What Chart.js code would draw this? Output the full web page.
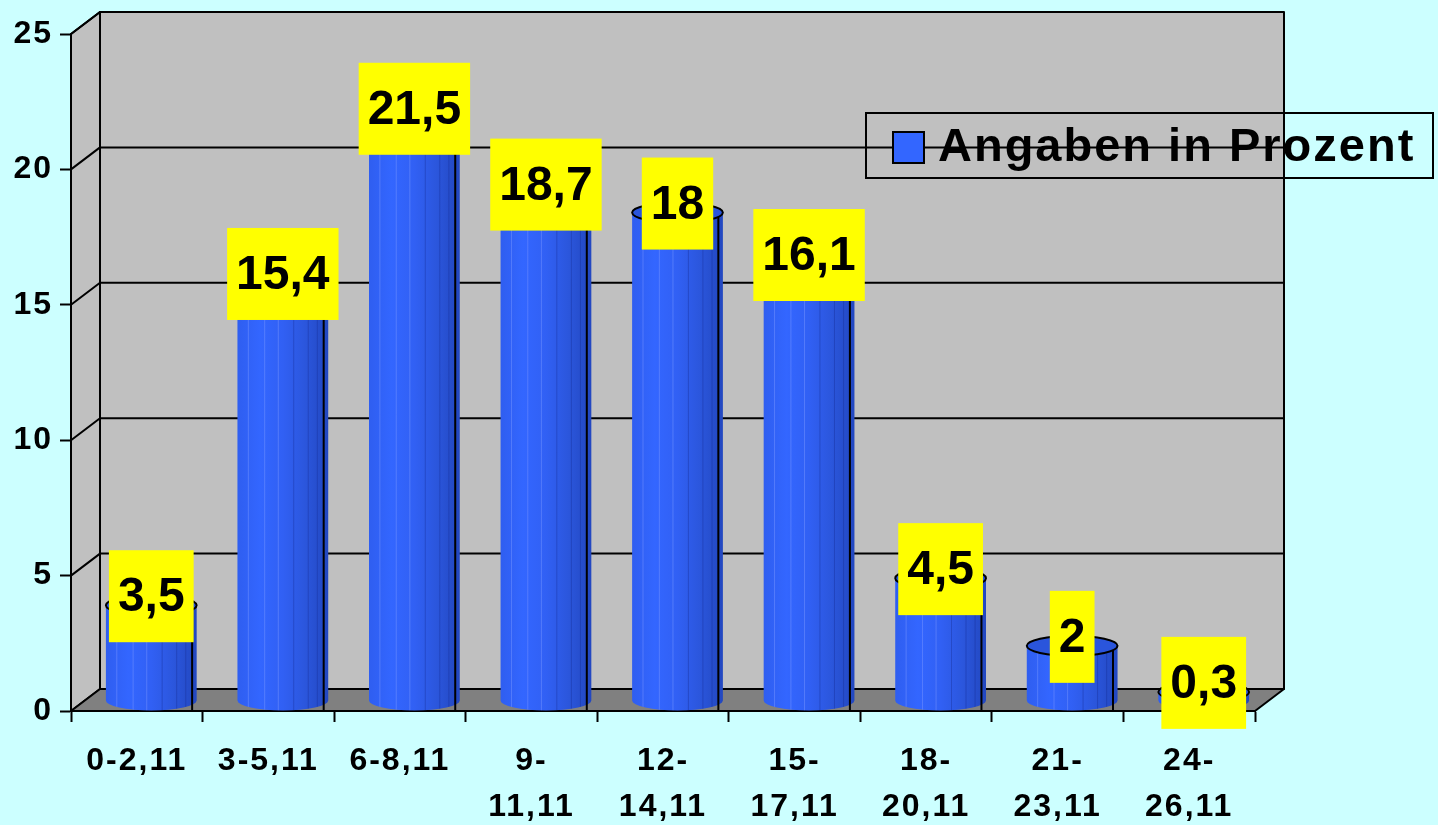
<!DOCTYPE html>
<html>
<head>
<meta charset="utf-8">
<script src="https://cdn.jsdelivr.net/npm/chart.js@4/dist/chart.umd.min.js"></script>
<style>
  html, body { margin: 0; padding: 0; background: #ccffff; }
  canvas { display: block; }
</style>
</head>
<body>
<canvas id="chart" width="1438" height="825"></canvas>
<script>
const categories = [
  ["0-2,11"], ["3-5,11"], ["6-8,11"], ["9-", "11,11"], ["12-", "14,11"],
  ["15-", "17,11"], ["18-", "20,11"], ["21-", "23,11"], ["24-", "26,11"],
];
const percentValues = [3.5, 15.4, 21.5, 18.7, 18, 16.1, 4.5, 2, 0.3];
const valueTicks = [0, 5, 10, 15, 20, 25];
const seriesLabel = "Angaben in Prozent";

const FONT = "'Liberation Sans', Arial, sans-serif";
const DEPTH_X = 29;
const DEPTH_Y = 22;

const toGerman = (v) => String(v).replace(".", ",");

// walls, floor and gridlines of the 3D box
const wallsPlugin = {
  id: "walls",
  beforeDraw(chart) {
    const { ctx, chartArea } = chart;
    const y = chart.scales.y;
    const L = chartArea.left, R = chartArea.right, B = chartArea.bottom;
    const top = y.getPixelForValue(valueTicks[valueTicks.length - 1]);
    ctx.save();
    ctx.fillStyle = "#ccffff";
    ctx.fillRect(0, 0, chart.width, chart.height);
    ctx.lineWidth = 2;
    ctx.strokeStyle = "#000";
    ctx.lineJoin = "round";

    // back wall
    ctx.fillStyle = "#c0c0c0";
    ctx.fillRect(L + DEPTH_X, top - DEPTH_Y, R - L, B - top);
    ctx.strokeRect(L + DEPTH_X, top - DEPTH_Y, R - L, B - top);

    // left wall
    ctx.beginPath();
    ctx.moveTo(L, top);
    ctx.lineTo(L + DEPTH_X, top - DEPTH_Y);
    ctx.lineTo(L + DEPTH_X, B - DEPTH_Y);
    ctx.lineTo(L, B);
    ctx.closePath();
    ctx.fill();
    ctx.stroke();

    // floor
    ctx.fillStyle = "#808080";
    ctx.beginPath();
    ctx.moveTo(L, B);
    ctx.lineTo(R, B);
    ctx.lineTo(R + DEPTH_X, B - DEPTH_Y);
    ctx.lineTo(L + DEPTH_X, B - DEPTH_Y);
    ctx.closePath();
    ctx.fill();
    ctx.stroke();

    // gridlines
    valueTicks.forEach((v) => {
      if (v === 0) return;
      const py = y.getPixelForValue(v);
      ctx.beginPath();
      ctx.moveTo(L, py);
      ctx.lineTo(L + DEPTH_X, py - DEPTH_Y);
      ctx.lineTo(R + DEPTH_X, py - DEPTH_Y);
      ctx.stroke();
    });
    ctx.restore();
    // wider tracking for the axis labels, like the original
    ctx.letterSpacing = "2px";
  },
  beforeDatasetsDraw(chart) {
    chart.ctx.letterSpacing = "0px";
  },
};

const drawCylinder = function (ctx, cx, top, base, w) {
  const rx = w / 2;
  const ry = 10;
  const grad = ctx.createLinearGradient(cx - rx, 0, cx + rx, 0);
  grad.addColorStop(0, "#2f5ef0");
  grad.addColorStop(0.25, "#3366ff");
  grad.addColorStop(0.5, "#3160f4");
  grad.addColorStop(0.75, "#2b56dc");
  grad.addColorStop(1, "#2247c0");

  ctx.save();
  ctx.lineWidth = 2;
  ctx.strokeStyle = "#000";
  ctx.beginPath();
  ctx.moveTo(cx - rx, top);
  ctx.lineTo(cx - rx, base);
  ctx.ellipse(cx, base, rx, ry, 0, Math.PI, 0, true);
  ctx.lineTo(cx + rx, top);
  ctx.ellipse(cx, top, rx, ry, 0, 0, Math.PI, false);
  ctx.closePath();
  ctx.fillStyle = grad;
  ctx.fill();

  // faint facet lines
  ctx.save();
  ctx.clip();
  ctx.lineWidth = 1;
  [0.12, 0.3, 0.45, 0.62, 0.78, 0.88, 0.95].forEach((f, i) => {
    const px = cx - rx + f * w;
    ctx.strokeStyle = i < 3 ? "rgba(120,150,255,0.5)" : "rgba(20,40,140,0.35)";
    ctx.beginPath();
    ctx.moveTo(px, top);
    ctx.lineTo(px, base + ry);
    ctx.stroke();
  });
  ctx.restore();

  ctx.lineWidth = 2;
  ctx.strokeStyle = "#000";
  ctx.stroke();

  // top cap
  ctx.beginPath();
  ctx.ellipse(cx, top, rx, ry, 0, 0, Math.PI * 2);
  ctx.fillStyle = "#2a55dc";
  ctx.fill();
  ctx.stroke();
  ctx.restore();
};

const cylindersPlugin = {
  id: "cylinders",
  afterDatasetsDraw(chart) {
    const { ctx } = chart;
    const meta = chart.getDatasetMeta(0);
    meta.data.forEach((bar) => {
      const cx = bar.x + DEPTH_X / 2;
      const top = bar.y - DEPTH_Y / 2;
      const base = bar.base - DEPTH_Y / 2 + 1;
      drawCylinder(ctx, cx, top, base, bar.width);
    });
    // value labels
    ctx.save();
    ctx.font = `bold 48px ${FONT}`;
    ctx.textAlign = "center";
    ctx.textBaseline = "middle";
    meta.data.forEach((bar, i) => {
      const text = toGerman(percentValues[i]);
      const cx = bar.x + DEPTH_X / 2;
      const cy = bar.y - DEPTH_Y / 2 - 9;
      const tw = ctx.measureText(text).width + 18;
      const th = 92;
      ctx.fillStyle = "#ffff00";
      ctx.fillRect(cx - tw / 2, cy - th / 2, tw, th);
      ctx.fillStyle = "#000";
      ctx.fillText(text, cx, cy + 2);
    });
    ctx.restore();
  },
};

const legendBoxPlugin = {
  id: "legendBox",
  afterDraw(chart) {
    const { ctx } = chart;
    ctx.save();
    ctx.lineWidth = 2;
    ctx.strokeStyle = "#000";
    ctx.strokeRect(866, 113, 567, 65);
    ctx.fillStyle = "#3366ff";
    ctx.fillRect(893, 132, 31, 31);
    ctx.strokeRect(893, 132, 31, 31);
    ctx.fillStyle = "#000";
    ctx.font = `bold 47px ${FONT}`;
    ctx.letterSpacing = "2px";
    ctx.textBaseline = "middle";
    ctx.textAlign = "left";
    ctx.fillText(seriesLabel, 938, 148);
    ctx.letterSpacing = "0px";
    ctx.restore();
  },
};

const init = function () {
  const canvas = document.getElementById("chart");
  new Chart(canvas, {
    type: "bar",
    data: {
      labels: categories,
      datasets: [
        {
          label: seriesLabel,
          data: percentValues,
          backgroundColor: "rgba(0,0,0,0)",
          borderWidth: 0,
          barPercentage: 0.69,
          categoryPercentage: 1,
        },
      ],
    },
    options: {
      responsive: false,
      animation: false,
      events: [],
      layout: { padding: { top: 34, right: 183, left: 0, bottom: 0 } },
      plugins: {
        legend: { display: false },
        tooltip: { enabled: false },
      },
      scales: {
        x: {
          afterFit: (s) => { s.height = 114; },
          grid: {
            offset: true,
            drawOnChartArea: false,
            tickLength: 11,
            tickWidth: 2,
            tickColor: "#000",
          },
          border: { display: true, color: "#000", width: 2 },
          ticks: {
            color: "#000",
            padding: 16,
            maxRotation: 0,
            autoSkip: false,
            font: { family: FONT, size: 32, weight: "bold", lineHeight: 1.45 },
          },
        },
        y: {
          min: 0,
          max: 25,
          afterFit: (s) => { s.width = 71; },
          afterBuildTicks: (s) => { s.ticks = valueTicks.map((v) => ({ value: v })); },
          grid: {
            drawOnChartArea: false,
            tickLength: 11,
            tickWidth: 2,
            tickColor: "#000",
          },
          border: { display: true, color: "#000", width: 2 },
          ticks: {
            color: "#000",
            padding: 7,
            font: { family: FONT, size: 32, weight: "bold" },
          },
        },
      },
    },
    plugins: [wallsPlugin, cylindersPlugin, legendBoxPlugin],
  });
};

window.onload = () => {
  if (document.readyState !== "loading") return init();
  document.addEventListener("DOMContentLoaded", init);
};
</script>
</body>
</html>
